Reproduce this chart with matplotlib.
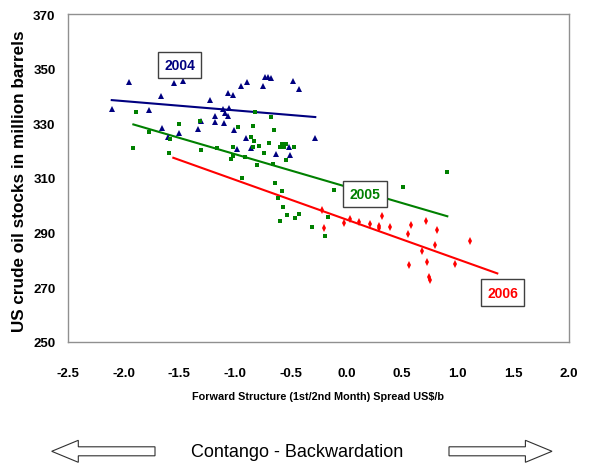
import numpy as np
import matplotlib
matplotlib.use('Agg')
import matplotlib.pyplot as plt
from matplotlib.patches import Polygon

# spread (US$/b) and US crude stocks (million barrels)
spread_2004 = [-1.952, -2.107, -1.667, -1.770, -1.548, -1.470, -1.227, -1.653, -1.599,
               -1.500, -1.305, -1.330, -0.889, -0.946, -1.060, -1.021, -0.730, -0.706,
               -0.679, -0.748, -0.479, -0.422, -1.108, -1.051, -1.090, -1.066, -1.180,
               -1.180, -1.099, -1.012, -0.898, -0.979, -0.859, -0.515, -0.632, -0.506,
               -0.279]
stocks_2004 = [345.0, 335.2, 339.9, 334.9, 344.8, 345.5, 338.4, 328.2, 325.1,
               326.6, 330.8, 327.9, 345.2, 343.5, 341.0, 340.4, 346.8, 346.8,
               346.6, 343.7, 345.4, 342.7, 335.2, 335.6, 333.7, 332.6, 332.6,
               330.4, 330.2, 327.6, 324.6, 320.6, 320.9, 321.2, 318.8, 318.4,
               324.6]

spread_2005 = [-1.886, -1.503, -1.772, -1.584, -1.913, -1.596, -1.308, -1.317,
               -0.820, -0.679, -0.841, -0.973, -0.650, -0.853, -0.829, -0.692, -0.784,
               -0.578, -0.542, -0.596, -0.560, -0.470, -0.841, -1.021, -1.164, -0.739,
               -1.015, -1.039, -0.910, -0.542, -0.802, -0.661, -0.935,
               -0.644, -0.581, -0.614, -0.572, -0.530, -0.425, -0.461, -0.599, -0.308,
               -0.192, -0.162, -0.111, 0.512, 0.902]
stocks_2005 = [334.3, 329.9, 327.0, 324.3, 320.9, 319.0, 320.4, 330.8,
               334.0, 332.4, 328.9, 328.7, 327.4, 324.9, 323.6, 322.9, 321.6,
               322.4, 322.4, 321.2, 321.4, 321.4, 321.2, 321.2, 320.9, 319.0,
               317.9, 316.9, 317.6, 316.5, 314.7, 315.0, 310.1,
               308.3, 305.4, 302.7, 299.5, 296.5, 296.9, 295.5, 294.4, 292.2,
               288.7, 295.7, 305.7, 306.6, 312.2]

spread_2006 = [-0.216, -0.201, -0.018, 0.033, 0.111, 0.213, 0.296, 0.296, 0.320,
               0.392, 0.584, 0.554, 0.716, 0.812, 0.794, 0.680, 0.566, 0.727,
               0.740, 0.752, 0.973, 1.111]
stocks_2006 = [298.4, 291.8, 293.4, 295.0, 293.9, 293.2, 292.4, 291.6, 296.0,
               292.2, 292.9, 289.4, 294.3, 291.1, 285.4, 283.3, 278.2, 279.2,
               273.9, 272.8, 278.4, 286.8]

# trend lines as drawn on the chart (start/end)
trend_x = [[-2.107, -0.279], [-1.913, 0.907], [-1.554, 1.356]]
trend_y = [[338.5, 332.3], [329.6, 296.0], [317.4, 275.1]]

years = ['2004', '2005', '2006']
label_x = [-1.498, 0.168, 1.405]
label_y = [351.3, 304.2, 268.1]

xticks = np.arange(-2.5, 2.01, 0.5)
yticks = np.arange(250, 371, 20)

colors = ['#000080', '#008000', '#ff0000']
markers = ['^', 's', 'd']
msizes = [3.8, 3.2, 3.9]

plt.rcParams['font.family'] = ['Liberation Sans', 'DejaVu Sans']

fig = plt.figure(figsize=(5.93, 4.64), dpi=100)
ax = fig.add_axes([68/593, 1-343/464, (569-68)/593, (343-15)/464])

series = [(spread_2004, stocks_2004), (spread_2005, stocks_2005), (spread_2006, stocks_2006)]
for i, (xs, ys) in enumerate(series):
    ax.plot(xs, ys, linestyle='none', marker=markers[i], ms=msizes[i],
            color=colors[i], markeredgewidth=0, zorder=3)
for i in range(3):
    ax.plot(trend_x[i], trend_y[i], color=colors[i], lw=1.5, zorder=2)
    ax.text(label_x[i], label_y[i], years[i], color=colors[i], fontsize=10,
            fontweight='bold', ha='center', va='center', zorder=5,
            bbox=dict(boxstyle='square,pad=0.45', fc='white', ec='#404040', lw=1))

ax.set_xlim(-2.5, 2.0)
ax.set_ylim(250, 370)
ax.set_xticks(xticks)
ax.set_yticks(yticks)
ax.set_xticklabels(['%.1f' % v for v in xticks])
ax.set_yticklabels(['%d' % v for v in yticks])
ax.tick_params(length=0, labelsize=9.5)
ax.tick_params(axis='x', pad=18)
ax.tick_params(axis='y', pad=9)
for lab in ax.get_xticklabels() + ax.get_yticklabels():
    lab.set_fontweight('bold')
for sp in ax.spines.values():
    sp.set_color('#909090')
    sp.set_linewidth(1.0)

fig.text(318/593, 1-397/464, 'Forward Structure (1st/2nd Month) Spread US$/b',
         fontsize=7.8, fontweight='bold', ha='center', va='center')
fig.text(20/593, 1-181/464, 'US crude oil stocks in million barrels',
         fontsize=12.3, fontweight='bold', rotation=90, ha='center', va='center')
fig.text(297/593, 1-453/464, 'Contango - Backwardation', fontsize=13,
         ha='center', va='center')

# hollow arrows under the chart
def arrow(tail, tip, yc):
    d = 1 if tip > tail else -1
    base = tip - d*26.6
    pts = [(tail, yc-4.5), (base, yc-4.5), (base, yc-11), (tip, yc),
           (base, yc+11), (base, yc+4.5), (tail, yc+4.5)]
    pts = [(px/593, 1-py/464) for px, py in pts]
    fig.patches.append(Polygon(pts, closed=True, fc='white', ec='#303030',
                               lw=0.8, transform=fig.transFigure))

arrow(155, 51.7, 452.3)
arrow(449, 552, 452.3)

fig.savefig('out.png', dpi=100)
